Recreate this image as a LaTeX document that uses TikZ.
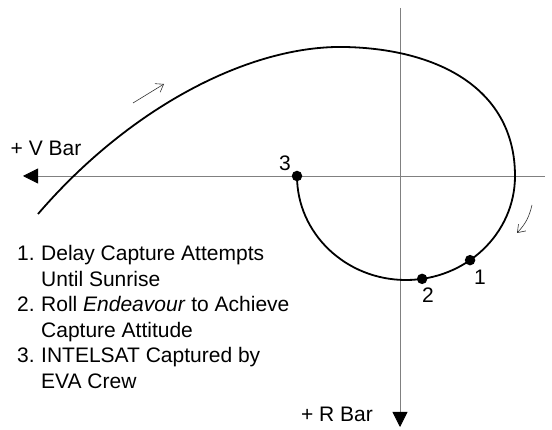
\documentclass[tikz,border=0pt]{standalone}
\usepackage{fontspec}
\setmainfont{Liberation Sans}
\usetikzlibrary{arrows.meta,calc}
\begin{document}
\begin{tikzpicture}[x=1pt,y=-1pt,
  axis/.style={draw=black!50, line width=0.8pt},
  path/.style={draw=black, line width=1.8pt},
  dot/.style={circle, fill=black, inner sep=0pt, minimum size=10.5pt},
  dirarrow/.style={draw=black!80, line width=0.6pt, -{Straight Barb[length=7pt,width=10pt]}},
  lbl/.style={font=\fontsize{21}{25}\selectfont, inner sep=0pt},
  item/.style={font=\fontsize{21}{25}\selectfont, inner sep=0pt, anchor=mid west}]
\useasboundingbox (0,0) rectangle (552,430);
% axes
\coordinate (hR) at (545,176);
\coordinate (hL) at (23,176);
\coordinate (vT) at (400,8);
\coordinate (vB) at (400,427);
\draw[axis, -{Triangle[length=15pt,width=15pt,color=black,fill=black]}] (hR) -- (hL);
\draw[axis, -{Triangle[length=15pt,width=15pt,color=black,fill=black]}] (vT) -- (vB);
% trajectory
\coordinate (c) at (406,176);
\coordinate (s) at (38,214);
\coordinate (p) at (345,47);
\coordinate (r) at (515,176);
\draw[path] (s) .. controls (130,107) and (250,45) .. (p)
  .. controls (440,49) and (515,90) .. (r)
  arc[start angle=0, end angle=180, x radius=109, y radius=104];
% dots
\node[dot] (d1) at ($(c)+(54:109 and 104)$) {};
\node[dot] (d2) at ($(c)+(81.5:109 and 104)$) {};
\node[dot] (d3) at ($(c)+(180:109 and 104)$) {};
\node[lbl] (l1) at (480,277) {1};
\node[lbl] (l2) at (428,295) {2};
\node[lbl] (l3) at (285,163) {3};
% direction arrows
\coordinate (a1s) at (133,103);
\coordinate (a1e) at (164,84);
\draw[dirarrow] (a1s) -- (a1e);
\coordinate (a2s) at (532,205);
\coordinate (a2e) at (517,233);
\draw[dirarrow] (a2s) to[bend left=15] (a2e);
% axis labels
\node[lbl] (vbar) at (46,148) {+ V Bar};
\node[lbl] (rbar) at (337,414) {+ R Bar};
% list
\node[item] (n1) at (17,258) {1.};
\node[item] (t1) at (41,258) {Delay Capture Attempts};
\node[item] (t1b) at (41,283.5) {Until Sunrise};
\node[item] (n2) at (17,309) {2.};
\node[item] (t2) at (41,309) {Roll \textit{Endeavour} to Achieve};
\node[item] (t2b) at (41,334.5) {Capture Attitude};
\node[item] (n3) at (17,360) {3.};
\node[item] (t3) at (41,360) {INTELSAT Captured by};
\node[item] (t3b) at (41,385.5) {EVA Crew};
\end{tikzpicture}
\end{document}
